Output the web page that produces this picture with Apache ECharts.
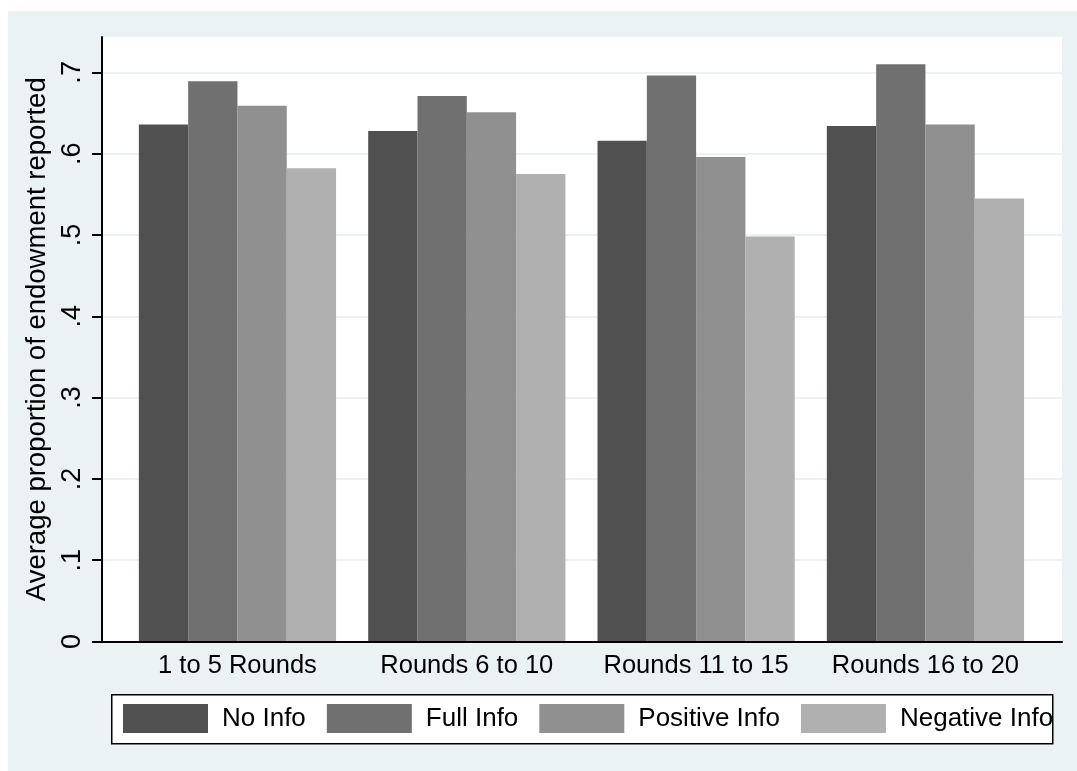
<!DOCTYPE html>
<html>
<head>
<meta charset="utf-8">
<script src="https://cdn.jsdelivr.net/npm/echarts@6/dist/echarts.min.js"></script>
<style>
  html, body { margin: 0; padding: 0; background: #ffffff; }
  #chart { position: absolute; left: 8px; top: 11px; width: 1069px; height: 760px; background: #eaf2f3; }
</style>
</head>
<body>
<div id="chart"></div>
<script>
// ---- data ----
const categories = ['1 to 5 Rounds', 'Rounds 6 to 10', 'Rounds 11 to 15', 'Rounds 16 to 20'];
const seriesNames = ['No Info', 'Full Info', 'Positive Info', 'Negative Info'];
const noInfo       = [0.636, 0.628, 0.616, 0.634];
const fullInfo     = [0.689, 0.671, 0.696, 0.710];
const positiveInfo = [0.659, 0.651, 0.596, 0.636];
const negativeInfo = [0.582, 0.575, 0.498, 0.545];
const yTicks = [0, 0.1, 0.2, 0.3, 0.4, 0.5, 0.6, 0.7];
const yMax = 0.7435;

const seriesValues = [noInfo, fullInfo, positiveInfo, negativeInfo];
const colors = ['#505050', '#707070', '#909090', '#b0b0b0'];
const FONT = "'Liberation Sans', Arial, Helvetica, sans-serif";

function fmt(v) {
  const r = Math.round(v * 10) / 10;
  if (Math.abs(v - r) > 1e-6) return '';
  return r === 0 ? '0' : String(r).replace(/^0/, '');
}

const chart = echarts.init(document.getElementById('chart'), null, { renderer: 'canvas' });
chart.setOption({
  animation: false,
  backgroundColor: '#eaf2f3',
  textStyle: { fontFamily: FONT },
  grid: [
    { left: 94, right: 15, top: 26, bottom: 129.5, show: true, backgroundColor: '#ffffff', borderWidth: 0, z: 0 },
    { left: 114.8, right: 36.9, top: 26, bottom: 129.5 }
  ],
  xAxis: [
    {
      type: 'category', gridIndex: 0, data: categories, z: 5,
      axisLine: { show: true, lineStyle: { color: '#000', width: 2 } },
      axisTick: { show: false }, axisLabel: { show: false }, splitLine: { show: false }
    },
    {
      type: 'category', gridIndex: 1, data: categories,
      axisLine: { show: false }, axisTick: { show: false },
      axisLabel: { show: true, color: '#000', fontSize: 25.5, fontFamily: FONT, margin: 11, interval: 0 }
    }
  ],
  yAxis: [
    {
      type: 'value', gridIndex: 0, min: 0, max: yMax, interval: 0.1, z: 0,
      name: 'Average proportion of endowment reported',
      nameLocation: 'middle', nameRotate: 90, nameGap: 37,
      nameTextStyle: { color: '#000', fontSize: 27.5, fontFamily: FONT },
      axisLine: { show: true, lineStyle: { color: '#000', width: 2 } },
      axisTick: { show: true, length: 10, lineStyle: { color: '#000', width: 2 }, customValues: yTicks },
      axisLabel: { show: true, rotate: 90, margin: 16, color: '#000', fontSize: 27, fontFamily: FONT,
                   customValues: yTicks, formatter: fmt },
      splitLine: { show: true, lineStyle: { color: '#eaf2f3', width: 2 } }
    },
    {
      type: 'value', gridIndex: 1, min: 0, max: yMax, interval: 0.1,
      axisLine: { show: false }, axisTick: { show: false }, axisLabel: { show: false }, splitLine: { show: false }
    }
  ],
  legend: {
    left: 115, top: 693, padding: 0,
    itemWidth: 85, itemHeight: 29, itemGap: 21,
    icon: 'rect',
    data: seriesNames,
    textStyle: { color: '#000', fontSize: 26, fontFamily: FONT, padding: [0, 0, 0, 9] }
  },
  graphic: [
    { type: 'rect', left: 103, top: 683, z: -1, silent: true,
      shape: { width: 941, height: 49 },
      style: { fill: '#ffffff', stroke: '#000', lineWidth: 1.5 } }
  ],
  series: seriesNames.map((name, i) => ({
    name: name,
    type: 'bar',
    xAxisIndex: 1, yAxisIndex: 1,
    data: seriesValues[i],
    barWidth: 49.3,
    barGap: '0%',
    z: 3,
    itemStyle: { color: colors[i] }
  }))
});
</script>
</body>
</html>
